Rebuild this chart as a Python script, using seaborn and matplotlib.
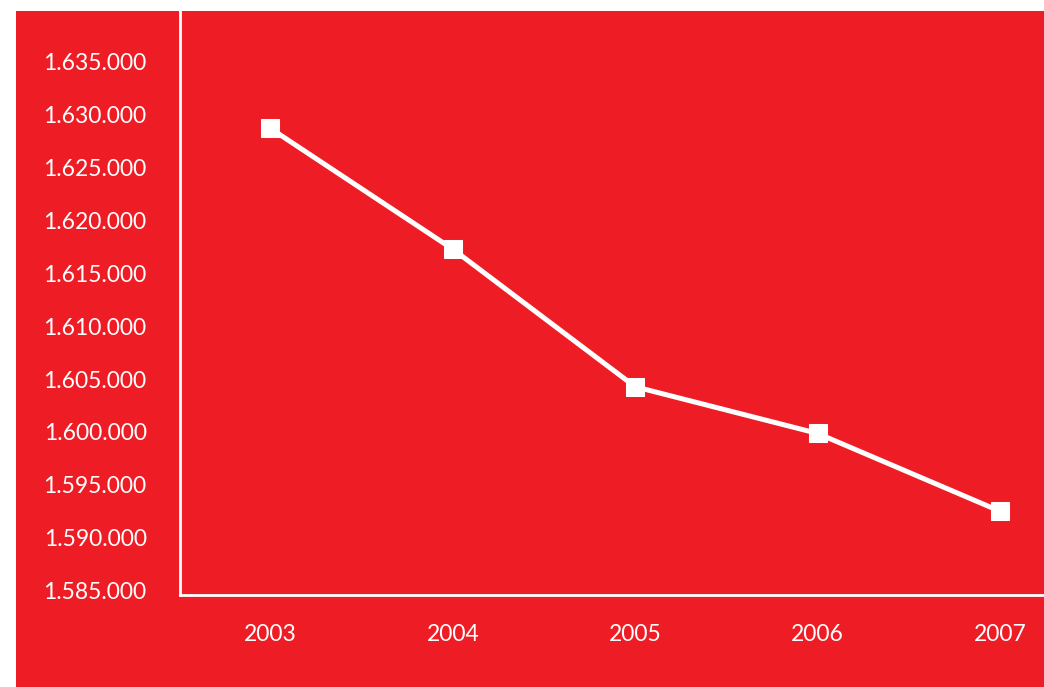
import matplotlib
matplotlib.use("Agg")
import matplotlib.pyplot as plt
import seaborn as sns
import pandas as pd
from matplotlib.patches import Rectangle

years = [2003, 2004, 2005, 2006, 2007]
values = [1628700, 1617280, 1604270, 1599860, 1592500]
yticks = [1585000, 1590000, 1595000, 1600000, 1605000, 1610000,
          1615000, 1620000, 1625000, 1630000, 1635000]

RED = "#EE1D25"
sns.set_style("white")
plt.rcParams['font.family'] = ['Lato', 'DejaVu Sans']

W, H = 1044, 687
fig = plt.figure(figsize=(W / 100, H / 100), dpi=100, facecolor="white")
bg = Rectangle((16 / W, 0), 1 - 16 / W, (H - 11) / H,
               transform=fig.transFigure, facecolor=RED,
               edgecolor="none", zorder=-10)
fig.patches.append(bg)
ax = fig.add_axes([180 / W, (H - 595) / H, (W - 180) / W, (595 - 11) / H])
ax.set_zorder(1)
ax.set_facecolor(RED)

df = pd.DataFrame({"year": years, "value": values})
sns.lineplot(data=df, x="year", y="value", ax=ax, color="white",
             linewidth=3.6, marker="s", markersize=12.5,
             markeredgecolor="white", markerfacecolor="white")

ax.set_xlim(2002.505, 2007.24)
ax.set_ylim(1584590, 1639790)
ax.set_xticks(years)
ax.set_xticklabels([str(y) for y in years])
ax.set_yticks(yticks)
ax.set_yticklabels([f"{v:,}".replace(",", ".") for v in yticks])
ax.tick_params(axis="both", length=0, colors="white", labelsize=16.5)
ax.tick_params(axis="y", pad=24)
ax.tick_params(axis="x", pad=21)
ax.set_xlabel("")
ax.set_ylabel("")
for s in ["top", "right"]:
    ax.spines[s].set_visible(False)
for s in ["left", "bottom"]:
    ax.spines[s].set_color("white")
    ax.spines[s].set_linewidth(2)

fig.savefig("out.png", dpi=100, facecolor="white")
